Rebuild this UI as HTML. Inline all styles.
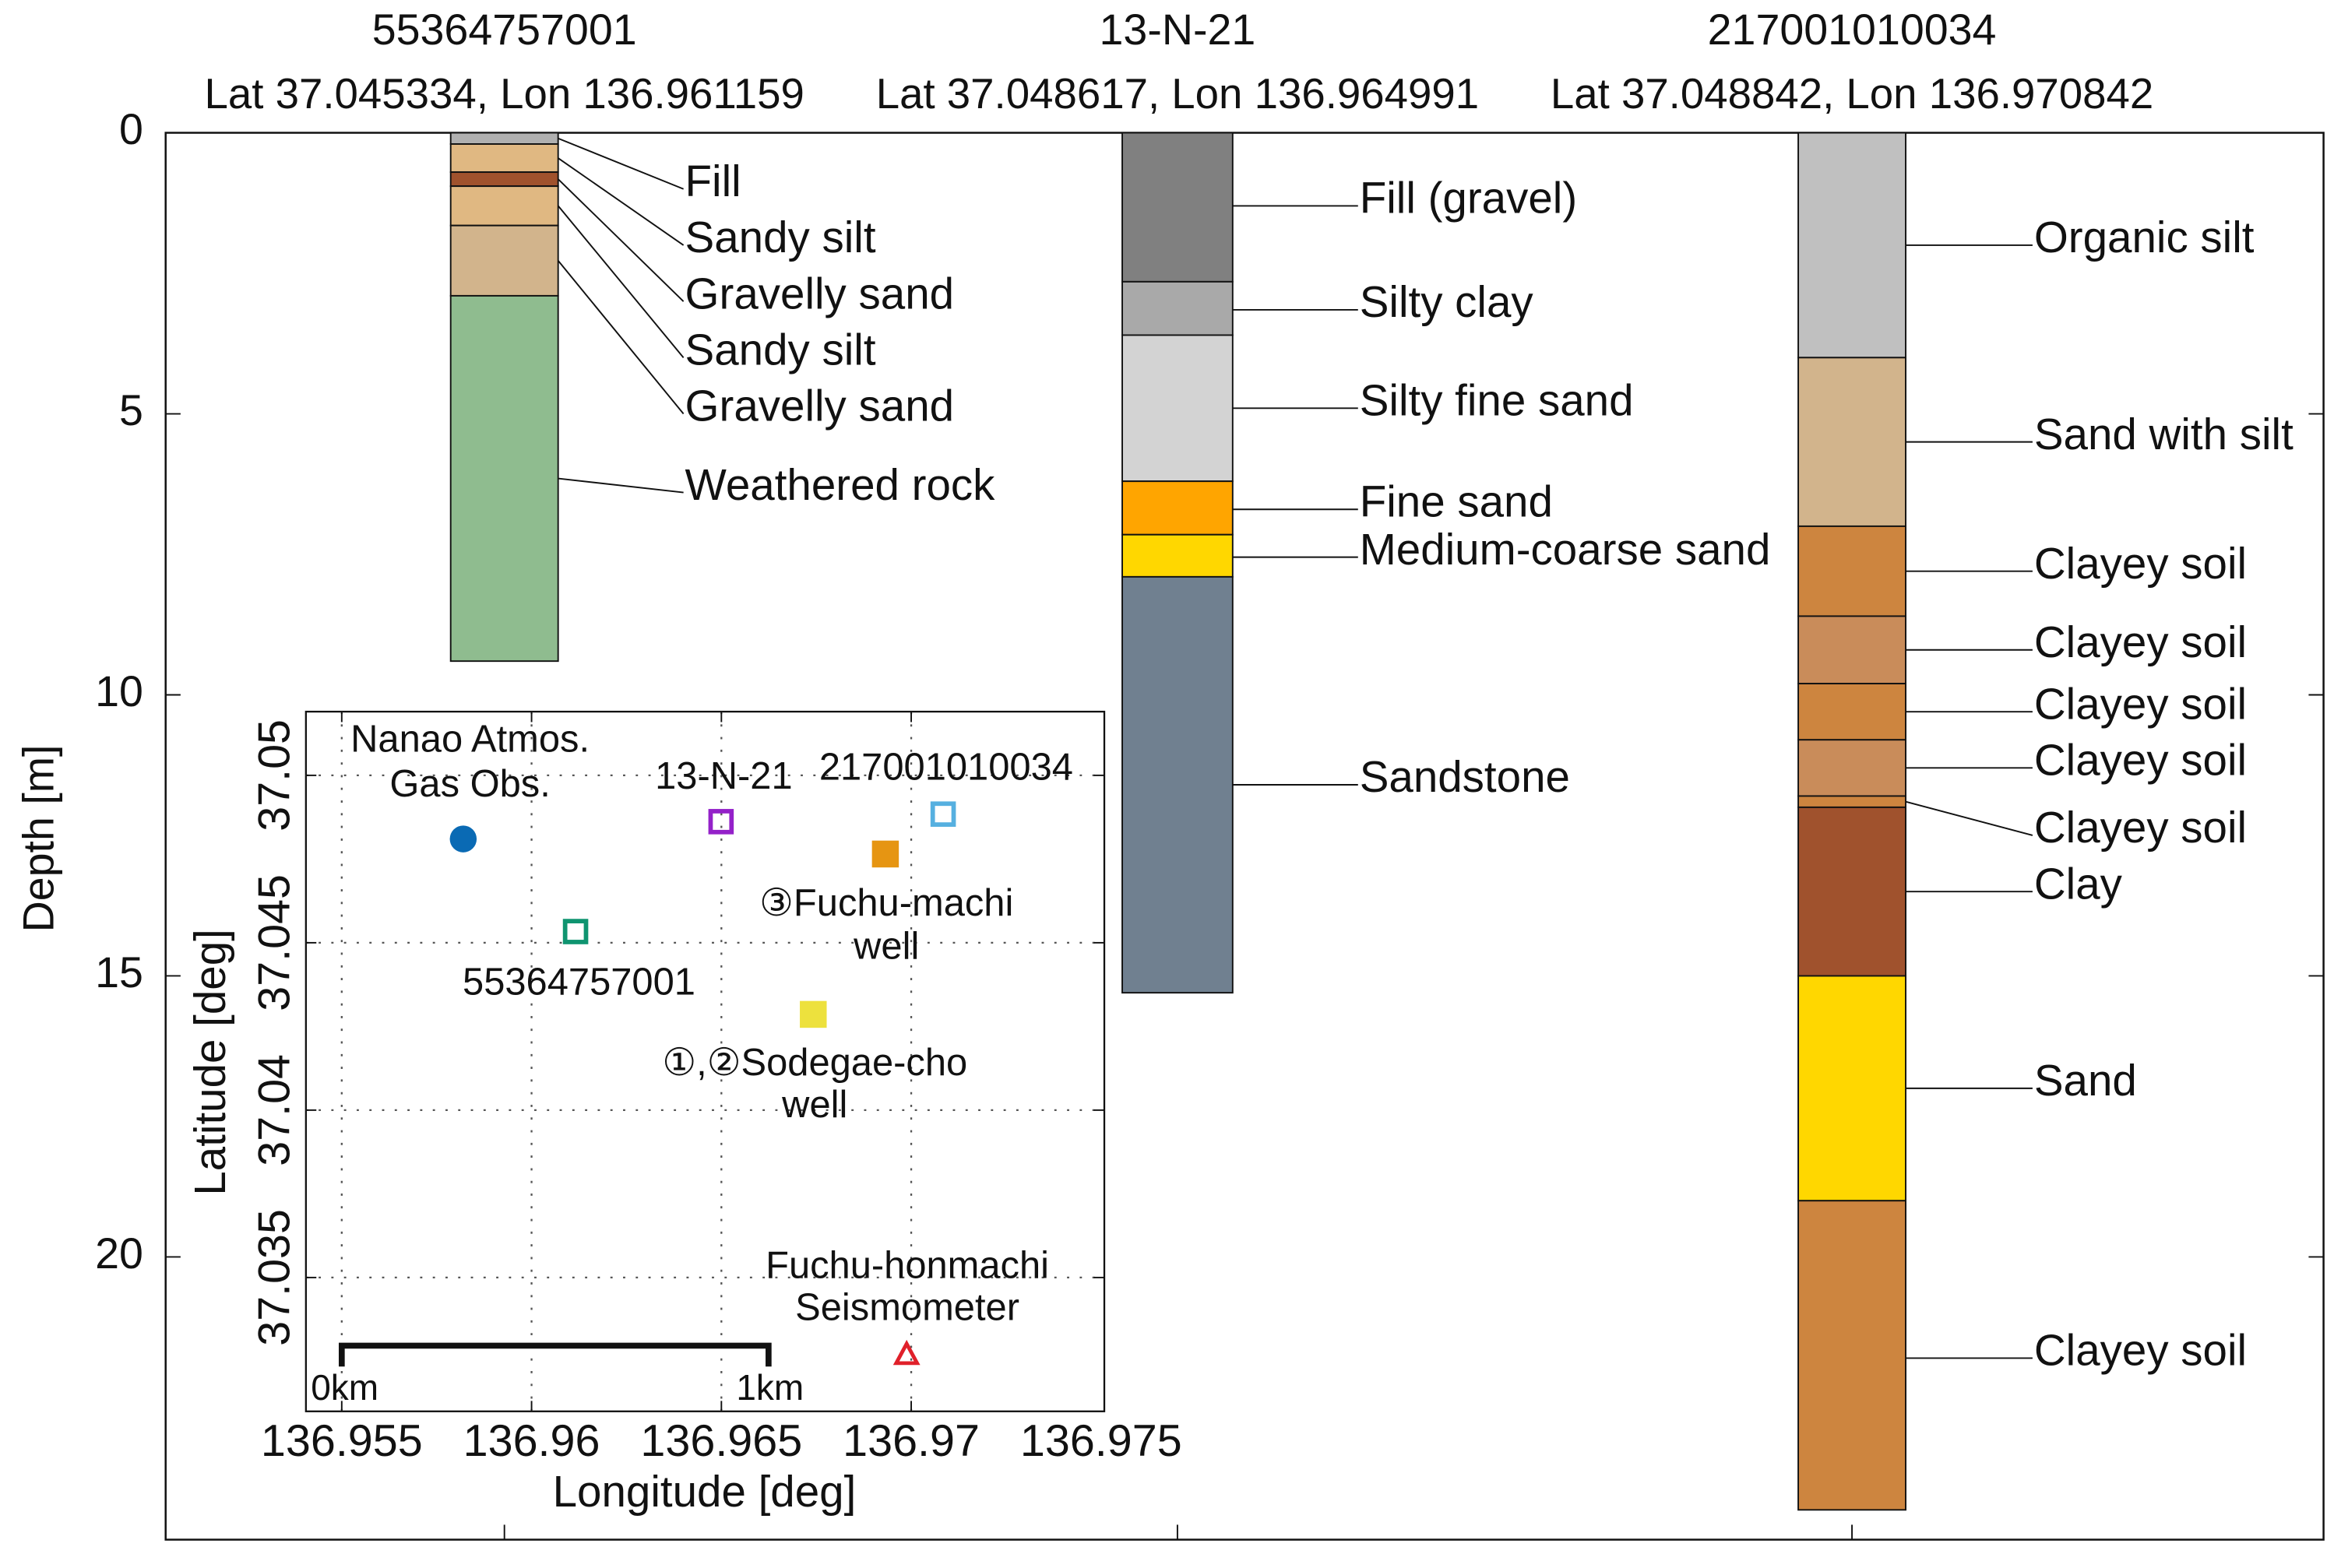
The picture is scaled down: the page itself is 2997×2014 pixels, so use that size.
<!DOCTYPE html>
<html><head><meta charset="utf-8"><style>
html,body{margin:0;padding:0;background:#fff}
svg{display:block}
text{font-family:"Liberation Sans","DejaVu Sans",sans-serif;fill:#111}
</style></head><body>
<svg id="chart" width="2997" height="2014" viewBox="0 0 1564 1051" preserveAspectRatio="none" xmlns="http://www.w3.org/2000/svg"></svg>
<script>
// ---- data ----
const depthTicks = [0, 5, 10, 15, 20];
const boreNames = ["55364757001", "13-N-21", "217001010034"];
const boreCoords = ["Lat 37.045334, Lon 136.961159", "Lat 37.048617, Lon 136.964991", "Lat 37.048842, Lon 136.970842"];
const bore1Tops = [0, 0.2, 0.7, 0.95, 1.65, 2.9];
const bore1Bottoms = [0.2, 0.7, 0.95, 1.65, 2.9, 9.4];
const bore1Colors = ["#b0b0b0", "#e0b882", "#a0522d", "#e0b882", "#d2b48c", "#8fbc8f"];
const bore1Labels = ["Fill", "Sandy silt", "Gravelly sand", "Sandy silt", "Gravelly sand", "Weathered rock"];
const bore1LabelDepths = [1.0, 2.0, 3.0, 4.0, 5.0, 6.4];
const bore2Tops = [0, 2.65, 3.6, 6.2, 7.15, 7.9];
const bore2Bottoms = [2.65, 3.6, 6.2, 7.15, 7.9, 15.3];
const bore2Colors = ["#808080", "#a9a9a9", "#d3d3d3", "#ffa500", "#ffd700", "#708090"];
const bore2Labels = ["Fill (gravel)", "Silty clay", "Silty fine sand", "Fine sand", "Medium-coarse sand", "Sandstone"];
const bore2LabelDepths = [1.3, 3.15, 4.9, 6.7, 7.55, 11.6];
const bore3Tops = [0, 4, 7, 8.6, 9.8, 10.8, 11.8, 12.0, 15, 19];
const bore3Bottoms = [4, 7, 8.6, 9.8, 10.8, 11.8, 12.0, 15, 19, 24.5];
const bore3Colors = ["#c0c0c0", "#d2b48c", "#cd853f", "#c98c5a", "#cd853f", "#c98c5a", "#cd853f", "#a0522d", "#ffd700", "#cd853f"];
const bore3Labels = ["Organic silt", "Sand with silt", "Clayey soil", "Clayey soil", "Clayey soil", "Clayey soil", "Clayey soil", "Clay", "Sand", "Clayey soil"];
const bore3LabelDepths = [2.0, 5.5, 7.8, 9.2, 10.3, 11.3, 12.5, 13.5, 17, 21.8];
const lonTicks = [136.955, 136.96, 136.965, 136.97, 136.975];
const latTicks = [37.035, 37.04, 37.045, 37.05];
const siteLon = [136.9582, 136.964991, 136.970842, 136.961159, 136.96932, 136.96742, 136.96988];
const siteLat = [37.0481, 37.048617, 37.048842, 37.045334, 37.04765, 37.04286, 37.03271];
const siteNames = ["nanao-obs", "13-N-21", "217001010034", "55364757001", "fuchu-machi-well", "sodegae-cho-well", "fuchu-honmachi-seismometer"];

// ---- geometry ----
const NS = "http://www.w3.org/2000/svg";
const svg = document.getElementById("chart");
const F = {l:111, t:89, r:1557, b:1032};
const dMax = 25.03;
const yD = d => F.t + d / dMax * (F.b - F.t);
const colX = [302, 752, 1205], colW = [72, 74, 72];
const I = {l:205, t:477, r:740, b:946};
const xLon = v => 229 + (v - 136.955) / 0.005 * 127.2;
const yLat = v => 519.7 + (37.05 - v) / 0.005 * 112.2;

function el(tag, attrs, parent) {
  const e = document.createElementNS(NS, tag);
  for (const k in attrs) e.setAttribute(k, attrs[k]);
  (parent || svg).appendChild(e);
  return e;
}
function txt(s, x, y, size, anchor, parent) {
  const t = el("text", {x:x, y:y, "font-size":size, "text-anchor":anchor || "start", "dominant-baseline":"middle"}, parent);
  t.textContent = s;
  return t;
}

const frame = el("rect", {x:F.l, y:F.t, width:F.r-F.l, height:F.b-F.t, fill:"none", stroke:"#111", "stroke-width":1.3});



depthTicks.forEach(d => {
  const y = yD(d);
  const tk = el("line", {x1:F.l, x2:F.l+10, y1:y, y2:y, stroke:"#111", "stroke-width":1});
  
  
  el("line", {x1:F.r-10, x2:F.r, y1:y, y2:y, stroke:"#111", "stroke-width":1});
  const lb = txt(String(d), 96, y, 29, "end");
  
  
});
const yt = txt("Depth [m]", 0, 0, 29, "middle");
yt.setAttribute("transform", "translate(28,562) rotate(-90)");



const bores = [
  [bore1Tops, bore1Bottoms, bore1Colors, bore1Labels, bore1LabelDepths, true],
  [bore2Tops, bore2Bottoms, bore2Colors, bore2Labels, bore2LabelDepths, false],
  [bore3Tops, bore3Bottoms, bore3Colors, bore3Labels, bore3LabelDepths, false]
];
bores.forEach((b, i) => {
  const [tops, bots, cols, labs, ldep, slant] = b;
  const x0 = colX[i], w = colW[i], cx = x0 + w/2;
  const g = el("g", {});
  
  
  const tn = txt(boreNames[i], cx, 22, 29, "middle");
  
  
  const tc = txt(boreCoords[i], cx, 65, 28.5, "middle");
  
  
  el("line", {x1:cx, x2:cx, y1:F.b-10, y2:F.b, stroke:"#111", "stroke-width":1});
  tops.forEach((t, j) => {
    const r = el("rect", {x:x0, y:yD(t), width:w, height:yD(bots[j]) - yD(t), fill:cols[j], stroke:"#111", "stroke-width":1}, g);
    
    
    const mid = (t + bots[j]) / 2;
    const lx = i === 0 ? 458 : (i === 1 ? 910 : 1362);
    const ly = yD(ldep[j]);
    const thin = (bots[j] - t) < 0.5;
    const sy = (slant || thin) ? yD(mid) : ly;
    const ln = el("line", {x1:x0+w, y1:sy, x2:lx, y2:ly, stroke:"#111", "stroke-width":1}, g);
    
    
    const lt = txt(labs[j], lx + 1, ly - 3, 29.5, "start", g);
    
    
  });
});

const ig = el("g", {});


el("rect", {x:I.l, y:I.t, width:I.r-I.l, height:I.b-I.t, fill:"#fff", stroke:"#111", "stroke-width":1.2}, ig);
lonTicks.forEach(v => {
  const x = xLon(v);
  if (x < I.r - 3) {
    const gl = el("line", {x1:x, x2:x, y1:I.t, y2:I.b, stroke:"#555", "stroke-width":1.2, "stroke-dasharray":"1.5 7"}, ig);
    
    
    el("line", {x1:x, x2:x, y1:I.b-7, y2:I.b, stroke:"#111"}, ig);
    el("line", {x1:x, x2:x, y1:I.t, y2:I.t+7, stroke:"#111"}, ig);
  }
  const lb = txt(String(v), x, 968, 30, "middle", ig);
  
  
});
latTicks.forEach(v => {
  const y = yLat(v);
  const gl = el("line", {x1:I.l, x2:I.r, y1:y, y2:y, stroke:"#555", "stroke-width":1.2, "stroke-dasharray":"1.5 7"}, ig);
  
  
  el("line", {x1:I.l, x2:I.l+7, y1:y, y2:y, stroke:"#111"}, ig);
  el("line", {x1:I.r-7, x2:I.r, y1:y, y2:y, stroke:"#111"}, ig);
  const lb = txt(String(v), 0, 0, 30, "middle", ig);
  lb.setAttribute("transform", "translate(186," + y + ") rotate(-90)");
  
  
});
const xt = txt("Longitude [deg]", 472, 1002, 29.5, "middle", ig);


const lt2 = txt("Latitude [deg]", 0, 0, 29.5, "middle", ig);
lt2.setAttribute("transform", "translate(143,712) rotate(-90)");



const sb = el("path", {d:"M229 916 V902 H515 V916", fill:"none", stroke:"#111", "stroke-width":4}, ig);


txt("0km", 231, 932, 24, "middle", ig);
txt("1km", 516, 932, 24, "middle", ig);

siteLon.forEach((lon, i) => {
  const x = xLon(lon), y = yLat(siteLat[i]);
  let m;
  if (i === 0) m = el("circle", {cx:x, cy:y, r:9, fill:"#0a6ab4"}, ig);
  else if (i === 1) m = el("rect", {x:x-7, y:y-7, width:14, height:14, fill:"none", stroke:"#9421c9", "stroke-width":3}, ig);
  else if (i === 2) m = el("rect", {x:x-7, y:y-7, width:14, height:14, fill:"none", stroke:"#56b0e0", "stroke-width":3}, ig);
  else if (i === 3) m = el("rect", {x:x-7, y:y-7, width:14, height:14, fill:"none", stroke:"#0f9470", "stroke-width":3}, ig);
  else if (i === 4) m = el("rect", {x:x-9, y:y-9, width:18, height:18, fill:"#e69512"}, ig);
  else if (i === 5) m = el("rect", {x:x-9, y:y-9, width:18, height:18, fill:"#ede13d"}, ig);
  else m = el("path", {d:"M"+x+" "+(y-7)+" L"+(x+7)+" "+(y+6)+" L"+(x-7)+" "+(y+6)+" Z", fill:"none", stroke:"#e0202a", "stroke-width":2.5}, ig);
  
  
});
const ann = [
  ["Nanao Atmos.", 315, 497], ["Gas Obs.", 315, 527], ["13-N-21", 485, 522], ["217001010034", 634, 516],
  ["③Fuchu-machi", 594, 607], ["well", 594, 636], ["55364757001", 388, 660],
  ["①,②Sodegae-cho", 546, 714], ["well", 546, 742], ["Fuchu-honmachi", 608, 850], ["Seismometer", 608, 878]
];
ann.forEach(a => {
  const t = txt(a[0], a[1], a[2], 25.5, "middle", ig);
  
  
});
</script>
</body></html>
